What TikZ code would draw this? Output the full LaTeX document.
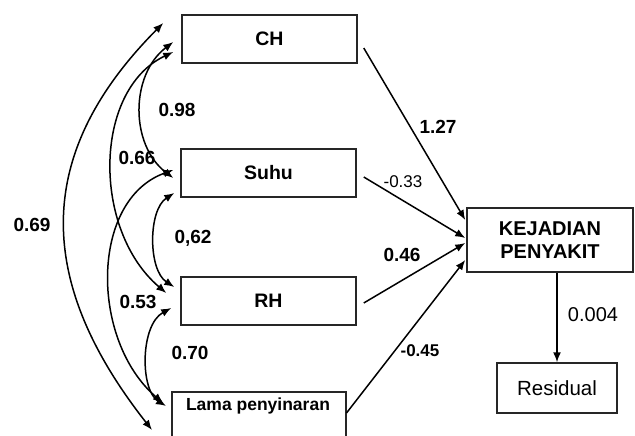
\documentclass[tikz,border=0pt]{standalone}
\usepackage{fontspec}
\setmainfont{Liberation Sans}
\usetikzlibrary{arrows.meta,calc}
\begin{document}
\begin{tikzpicture}[x=1pt,y=-1pt,
  box/.style={draw=black!85,line width=1.5pt,inner sep=0pt,fill=white},
  btext/.style={font=\fontsize{19.5}{21}\selectfont\bfseries,align=center},
  num/.style={font=\fontsize{19}{20}\selectfont\bfseries,inner sep=0pt},
  numr/.style={font=\fontsize{17}{19}\selectfont,inner sep=0pt},
  conn/.style={line width=1.5pt,-{Latex[length=10pt,width=8pt]}},
  corr/.style={line width=1.5pt,{Latex[length=10pt,width=8pt]}-{Latex[length=10pt,width=8pt]}}]
\clip (0,0) rectangle (635,436);
\fill[white] (0,0) rectangle (635,436);
% boxes
\node[box,minimum width=175pt,minimum height=48pt,btext] (ch) at (269.5,39) {CH};
\node[box,minimum width=175pt,minimum height=48pt,btext] (suhu) at (268.5,173) {Suhu};
\node[box,minimum width=175pt,minimum height=48pt,btext] (rh) at (268.5,301) {RH};
\node[box,minimum width=174pt,minimum height=70pt,anchor=north west] (lama) at (171,391) {};
\node[font=\fontsize{17.5}{19}\selectfont\bfseries] (lamatxt) at (258,406) {Lama penyinaran};
\node[box,minimum width=166pt,minimum height=64pt,align=center,font=\fontsize{20}{23}\selectfont\bfseries] (kej) at (550,240) {KEJADIAN\\PENYAKIT};
\node[box,minimum width=120pt,minimum height=50pt,font=\fontsize{20.5}{22}\selectfont] (res) at (557,388) {Residual};
% paths to outcome
\draw[conn] ($(ch.east)+(6,9)$) -- ($(kej.west)+(-1,-20)$);
\draw[conn] ($(suhu.east)+(7,4)$) -- ($(kej.west)+(-1,-2)$);
\draw[conn] ($(rh.east)+(7,2)$) -- ($(kej.west)+(-1,3)$);
\draw[conn] ($(lama.north east)+(0,22)$) -- ($(kej.west)+(-1,20)$);
\draw[conn] (res.north |- kej.south) -- (res.north);
% correlations
\draw[corr] ($(ch.west)+(-18,-16)$) .. controls (34,153) and (34,280) .. ($(lama.north west)+(-19,39)$);
\draw[corr] ($(ch.west)+(-8,3)$) .. controls (130,75) and (130,145) .. ($(suhu.west)+(-7,5)$);
\draw[corr] ($(ch.west)+(-8,13)$) .. controls (93,90) and (92,230) .. ($(rh.west)+(-14,-8)$);
\draw[corr] ($(suhu.west)+(-7,-3)$) .. controls (90,200) and (90,340) .. ($(lama.north west)+(-8,12)$);
\draw[corr] ($(suhu.west)+(-6,20)$) .. controls (148,210) and (148,270) .. ($(rh.west)+(-6,-14)$);
\draw[corr] ($(rh.west)+(-9,7)$) .. controls (140,325) and (140,390) .. ($(lama.north west)+(-5,15)$);
% labels
\node[num] (l069) at (32,225) {0.69};
\node[num] (l098) at (177,110) {0.98};
\node[num] (l066) at (137,158) {0.66};
\node[num] (l062) at (193,238) {0,62};
\node[num] (l053) at (138,302) {0.53};
\node[num] (l070) at (190,353) {0.70};
\node[num] (l127) at (438,127) {1.27};
\node[numr] (l033) at (403,182) {-0.33};
\node[num] (l046) at (402,255) {0.46};
\node[numr,font=\fontsize{17}{19}\selectfont\bfseries] (l045) at (420,351) {-0.45};
\node[font=\fontsize{20}{22}\selectfont,inner sep=0pt] (l0004) at (593,315) {0.004};
\end{tikzpicture}
\end{document}
